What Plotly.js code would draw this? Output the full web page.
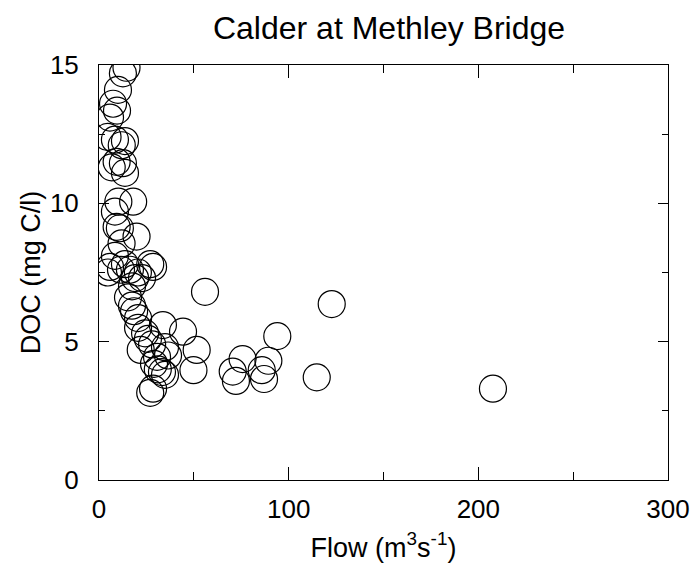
<!DOCTYPE html>
<html>
<head>
<meta charset="utf-8">
<script src="https://cdn.plot.ly/plotly-3.0.1.min.js"></script>
<style>
  html, body { margin: 0; padding: 0; background: #fff; }
  #chart { width: 691px; height: 565px; }
</style>
</head>
<body>
<div id="chart"></div>
<script>
// River flow (m3/s) and dissolved organic carbon (mg C/l) samples
const flow = [
  14.5, 12.6, 10.0, 7.4, 9.5, 5.8, 4.5, 12.0, 8.4, 13.7,
  9.3, 6.7, 12.6, 10.2, 18.0, 13.7, 8.4, 9.3, 11.0, 4.7,
  19.8, 11.9, 8.4, 5.8, 13.7, 27.0, 28.5, 16.3, 20.5, 11.6,
  22.7, 19.0, 17.4, 55.9, 15.3, 17.4, 18.5, 20.6, 20.6, 33.7,
  24.3, 25.8, 44.3, 28.0, 22.0, 34.8, 51.5, 30.6, 36.4, 29.0,
  31.0, 49.8, 33.2, 34.8, 28.5, 27.0, 75.7, 70.5, 72.2, 85.8,
  89.3, 87.0, 94.0, 114.8, 122.7, 207.7
];
const doc = [
  14.9, 14.7, 14.1, 13.6, 13.35, 13.1, 12.4, 12.1, 12.3, 12.25,
  11.5, 11.3, 11.45, 10.06, 10.06, 11.1, 9.7, 9.15, 9.1, 7.5,
  8.8, 8.55, 8.1, 7.7, 7.8, 7.8, 7.7, 7.6, 7.5, 7.6,
  7.3, 7.3, 7.0, 6.8, 6.6, 6.3, 6.1, 5.85, 5.5, 5.6,
  5.3, 5.1, 5.36, 4.9, 4.7, 4.8, 4.7, 4.45, 4.5, 4.2,
  4.0, 3.97, 3.9, 3.8, 3.3, 3.15, 4.37, 3.92, 3.58, 3.97,
  4.31, 3.65, 5.2, 3.71, 6.36, 3.3
];

const xTicks = [0, 100, 200, 300];
const yTicks = [0, 5, 10, 15];

const fontFamily = '"Liberation Sans", Arial, Helvetica, sans-serif';

const trace = {
  x: flow,
  y: doc,
  type: 'scatter',
  mode: 'markers',
  marker: {
    symbol: 'circle-open',
    size: 27,
    color: '#000',
    line: { width: 1.2, color: '#000' }
  },
  hoverinfo: 'x+y'
};

const axisCommon = {
  showgrid: false,
  zeroline: false,
  showline: true,
  linecolor: '#000',
  linewidth: 1,
  mirror: 'ticks',
  ticks: 'inside',
  tickcolor: '#000',
  tickwidth: 1,
  tickfont: { family: fontFamily, size: 26, color: '#000' }
};

const layout = {
  width: 691,
  height: 565,
  margin: { l: 99, r: 23, t: 65, b: 85 },
  paper_bgcolor: '#fff',
  plot_bgcolor: '#fff',
  showlegend: false,
  title: {
    text: 'Calder at Methley Bridge',
    font: { family: fontFamily, size: 32, color: '#000' },
    x: 0.563,
    xanchor: 'center',
    y: 0.950,
    yanchor: 'middle'
  },
  xaxis: Object.assign({}, axisCommon, {
    range: [0, 300],
    tickvals: xTicks,
    ticktext: xTicks.map(String),
    ticklen: 13,
    ticklabelstandoff: 6,
    minor: { dtick: 50, tick0: 0, ticks: 'inside', ticklen: 8, tickcolor: '#000', showgrid: false },
    title: {
      text: 'Flow (m<sup>3</sup>s<sup>-1</sup>)',
      font: { family: fontFamily, size: 27, color: '#000' },
      standoff: 14
    }
  }),
  yaxis: Object.assign({}, axisCommon, {
    range: [0, 15],
    tickvals: yTicks,
    ticktext: yTicks.map(String),
    ticklen: 10,
    ticklabelstandoff: 14,
    minor: { dtick: 2.5, tick0: 0, ticks: 'inside', ticklen: 6, tickcolor: '#000', showgrid: false },
    title: {
      text: 'DOC (mg C/l)',
      font: { family: fontFamily, size: 27, color: '#000' },
      standoff: 1
    }
  })
};

Plotly.newPlot('chart', [trace], layout, { displayModeBar: false, staticPlot: true });
</script>
</body>
</html>
